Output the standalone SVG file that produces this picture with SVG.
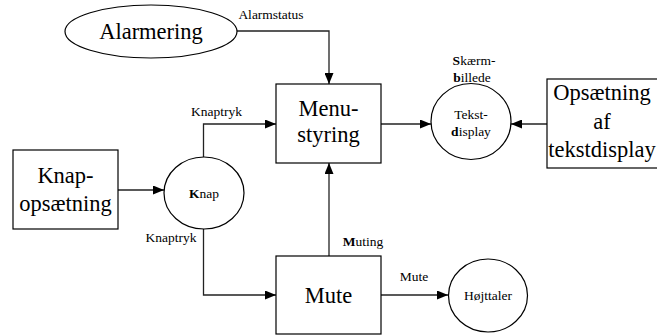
<svg xmlns="http://www.w3.org/2000/svg" width="657" height="335" viewBox="0 0 657 335" font-family="Times New Roman, Liberation Serif, serif">
  <defs>
    <marker id="arrow" markerUnits="userSpaceOnUse" markerWidth="11" markerHeight="9" refX="11" refY="4.5" orient="auto">
      <path d="M0,0 L11,4.5 L0,9 z" fill="#000"/>
    </marker>
  </defs>

  <!-- connectors -->
  <g id="connectors" fill="none" stroke="#222" stroke-width="1.3" marker-end="url(#arrow)">
    <path d="M237,31 H329 V84"/>
    <path d="M203.5,157 V124 H276"/>
    <path d="M118,190 H164"/>
    <path d="M203.5,229 V295 H276"/>
    <path d="M329,256 V163"/>
    <path d="M381,124 H431"/>
    <path d="M547,124 H511"/>
    <path d="M381,295 H448"/>
  </g>

  <!-- connector labels -->
  <g id="labels" font-size="13.5" text-anchor="middle">
    <text font-family="Times New Roman, Liberation Serif, serif" x="271" y="19">Alarmstatus</text>
    <text font-family="Times New Roman, Liberation Serif, serif" x="216.5" y="116">Knaptryk</text>
    <text font-family="Times New Roman, Liberation Serif, serif" x="171" y="242">Knaptryk</text>
    <text font-family="Times New Roman, Liberation Serif, serif" x="363" y="246"><tspan font-weight="bold">M</tspan>uting</text>
    <text font-family="Times New Roman, Liberation Serif, serif" x="414" y="281">Mute</text>
    <text font-family="Times New Roman, Liberation Serif, serif" x="474" y="65"><tspan font-weight="bold">S</tspan>kærm-</text>
    <text font-family="Times New Roman, Liberation Serif, serif" x="472" y="82"><tspan font-weight="bold">b</tspan>illede</text>
  </g>

  <g id="alarmering" text-anchor="middle">
    <ellipse cx="151" cy="31.5" rx="86" ry="26.5" fill="#fff" stroke="#000" stroke-width="1.2"/>
    <text font-family="Times New Roman, Liberation Serif, serif" font-size="22.5" x="151" y="38.5">Alarmering</text>
  </g>

  <g id="menustyring" text-anchor="middle">
    <rect x="276" y="84" width="105" height="79" fill="#fff" stroke="#000" stroke-width="1.2"/>
    <text font-family="Times New Roman, Liberation Serif, serif" font-size="22.5" x="328.5" y="116">Menu-</text>
    <text font-family="Times New Roman, Liberation Serif, serif" font-size="22.5" x="328.5" y="142">styring</text>
  </g>

  <g id="knapopsaetning" text-anchor="middle">
    <rect x="13" y="150" width="105" height="79" fill="#fff" stroke="#000" stroke-width="1.2"/>
    <text font-family="Times New Roman, Liberation Serif, serif" font-size="22.5" x="65.5" y="183">Knap-</text>
    <text font-family="Times New Roman, Liberation Serif, serif" font-size="22.5" x="65.5" y="211">opsætning</text>
  </g>

  <g id="knap" text-anchor="middle">
    <ellipse cx="204" cy="193" rx="40" ry="36" fill="#fff" stroke="#000" stroke-width="1.2"/>
    <text font-family="Times New Roman, Liberation Serif, serif" font-size="13.5" x="204" y="198"><tspan font-weight="bold">K</tspan>nap</text>
  </g>

  <g id="mute" text-anchor="middle">
    <rect x="276" y="256" width="105" height="78" fill="#fff" stroke="#000" stroke-width="1.2"/>
    <text font-family="Times New Roman, Liberation Serif, serif" font-size="22.5" x="328.5" y="303">Mute</text>
  </g>

  <g id="hoejttaler" text-anchor="middle">
    <ellipse cx="488" cy="295.5" rx="39.5" ry="36.5" fill="#fff" stroke="#000" stroke-width="1.2"/>
    <text font-family="Times New Roman, Liberation Serif, serif" font-size="13.5" x="488" y="300">Højttaler</text>
  </g>

  <g id="tekstdisplay" text-anchor="middle">
    <ellipse cx="471" cy="121.5" rx="40" ry="38" fill="#fff" stroke="#000" stroke-width="1.2"/>
    <text font-family="Times New Roman, Liberation Serif, serif" font-size="13.5" x="471" y="119">Tekst-</text>
    <text font-family="Times New Roman, Liberation Serif, serif" font-size="13.5" x="471" y="136"><tspan font-weight="bold">d</tspan>isplay</text>
  </g>

  <g id="opsaetning-tekstdisplay" text-anchor="middle">
    <rect x="547" y="79" width="112" height="89" fill="#fff" stroke="#000" stroke-width="1.2"/>
    <text font-family="Times New Roman, Liberation Serif, serif" font-size="22.5" x="602" y="100">Opsætning</text>
    <text font-family="Times New Roman, Liberation Serif, serif" font-size="22.5" x="602" y="129">af</text>
    <text font-family="Times New Roman, Liberation Serif, serif" font-size="22.5" x="602" y="157">tekstdisplay</text>
  </g>
</svg>
